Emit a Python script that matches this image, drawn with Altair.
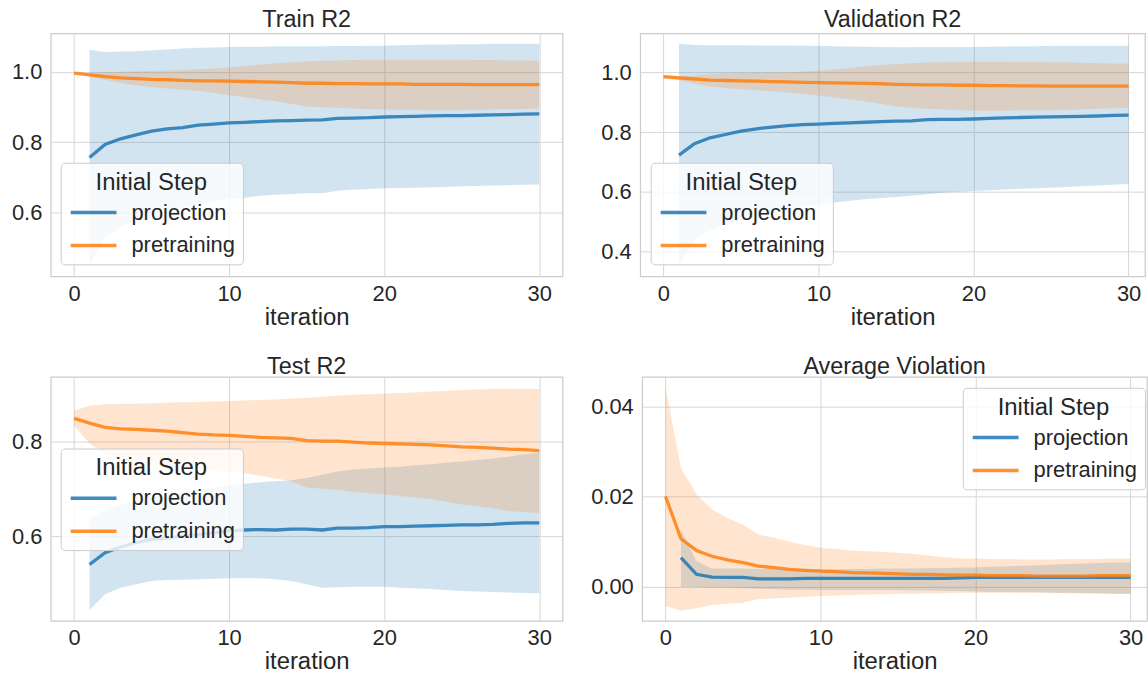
import altair as alt
import pandas as pd

STEPS = ["projection", "pretraining"]
COLORS = ["#1f77b4", "#ff7f0e"]
PROJ_ITERS = list(range(1, 31))
PRE_ITERS = list(range(0, 31))
X_TICKS = [0, 10, 20, 30]

# ---------------- Train R2 ----------------
train_proj_mean = [.757, .794, .810, .821, .832, .838, .842, .849, .852, .855, .857, .859, .861, .862, .863,
                   .864, .868, .869, .870, .872, .873, .874, .875, .876, .876, .877, .878, .879, .880, .881]
train_proj_hi = [1.063, 1.057, 1.058, 1.059, 1.061, 1.064, 1.067, 1.069, 1.070, 1.071, 1.072, 1.072, 1.073, 1.073, 1.073,
                 1.073, 1.074, 1.074, 1.075, 1.075, 1.076, 1.077, 1.078, 1.078, 1.079, 1.079, 1.080, 1.080, 1.080, 1.080]
train_proj_lo = [.450, .530, .560, .580, .595, .605, .615, .624, .632, .639, .642, .648, .651, .653, .655,
                 .655, .662, .665, .667, .669, .670, .671, .672, .673, .675, .676, .677, .678, .679, .680]
train_pre_mean = [.997, .992, .987, .983, .981, .979, .978, .976, .975, .975, .974, .973, .972, .971, .970, .968,
                  .968, .967, .967, .966, .966, .966, .965, .965, .965, .965, .964, .964, .964, .964, .964]
train_pre_hi = [.997, .997, .999, 1.001, 1.002, 1.003, 1.004, 1.006, 1.008, 1.010, 1.013, 1.017, 1.021, 1.025, 1.028, 1.030,
                1.032, 1.033, 1.034, 1.035, 1.035, 1.035, 1.035, 1.035, 1.035, 1.035, 1.034, 1.034, 1.033, 1.033, 1.032]
train_pre_lo = [.997, .988, .978, .969, .962, .957, .953, .950, .947, .941, .934, .928, .922, .917, .910, .902,
                .900, .898, .896, .894, .893, .892, .892, .891, .891, .891, .892, .893, .894, .895, .896]

# ---------------- Validation R2 ----------------
val_proj_mean = [.723, .761, .781, .792, .803, .811, .817, .822, .825, .827, .829, .831, .833, .835, .837,
                 .838, .842, .843, .843, .844, .846, .848, .849, .850, .851, .852, .853, .854, .856, .857]
val_proj_hi = [1.096, 1.092, 1.091, 1.091, 1.091, 1.090, 1.090, 1.090, 1.089, 1.089, 1.088, 1.087, 1.086, 1.085, 1.084,
               1.084, 1.085, 1.085, 1.085, 1.085, 1.086, 1.087, 1.088, 1.088, 1.089, 1.089, 1.089, 1.089, 1.089, 1.089]
val_proj_lo = [.353, .437, .470, .490, .505, .517, .528, .538, .548, .557, .564, .570, .575, .579, .583,
               .587, .592, .597, .600, .603, .605, .608, .610, .612, .614, .616, .619, .621, .624, .626]
val_pre_mean = [.986, .982, .978, .974, .973, .972, .971, .969, .968, .967, .966, .965, .964, .963, .962, .960,
                .959, .958, .958, .957, .957, .956, .956, .955, .955, .954, .954, .954, .954, .954, .954]
val_pre_hi = [.990, .988, .990, .994, .997, .999, 1.000, 1.000, 1.001, 1.003, 1.006, 1.010, 1.015, 1.020, 1.025, 1.028,
              1.031, 1.033, 1.034, 1.035, 1.036, 1.036, 1.036, 1.035, 1.035, 1.034, 1.033, 1.032, 1.031, 1.030, 1.029]
val_pre_lo = [.979, .974, .963, .953, .948, .944, .940, .937, .933, .928, .923, .917, .910, .903, .895, .886,
              .881, .878, .876, .874, .872, .872, .872, .873, .873, .873, .874, .876, .878, .880, .881]

# ---------------- Test R2 ----------------
test_proj_mean = [.540, .565, .577, .586, .593, .596, .600, .603, .607, .611, .613, .614, .613, .615, .615,
                  .613, .617, .617, .618, .620, .620, .621, .622, .623, .624, .624, .625, .627, .628, .628]
test_proj_hi = [.639, .656, .667, .675, .682, .688, .693, .698, .703, .707, .711, .714, .716, .718, .723,
                .730, .737, .741, .743, .745, .747, .750, .752, .755, .758, .761, .764, .768, .773, .777]
test_proj_lo = [.444, .477, .491, .498, .505, .507, .508, .509, .510, .511, .511, .511, .509, .505, .498,
                .491, .492, .493, .493, .493, .491, .490, .488, .486, .484, .483, .482, .481, .480, .479]
test_pre_mean = [.849, .839, .830, .827, .826, .824, .822, .819, .816, .814, .813, .811, .809, .808, .807, .802,
                 .801, .801, .799, .797, .796, .795, .794, .793, .791, .789, .788, .786, .784, .783, .781]
test_pre_hi = [.865, .876, .879, .880, .880, .881, .882, .883, .884, .885, .886, .887, .888, .889, .891, .893,
               .895, .897, .899, .900, .902, .903, .904, .906, .907, .909, .910, .911, .912, .911, .911]
test_pre_lo = [.834, .796, .775, .761, .755, .751, .748, .745, .742, .739, .737, .733, .728, .722, .716, .703,
               .700, .698, .694, .691, .688, .685, .682, .678, .673, .667, .663, .659, .653, .651, .649]

# ---------------- Average Violation ----------------
viol_proj_mean = [.0065, .0028, .0022, .0021, .0021, .0018, .0018, .0018, .0019, .0019, .0019, .0019, .0019, .0019, .0019,
                  .0019, .0019, .0019, .0020, .0021, .0021, .0021, .0021, .0021, .0021, .0021, .0021, .0021, .0021, .0021]
viol_proj_hi = [.0127, .0057, .0041, .0041, .0041, .0040, .0040, .0039, .0039, .0039, .0039, .0040, .0040, .0041, .0041,
                .0041, .0042, .0042, .0043, .0043, .0045, .0046, .0047, .0048, .0050, .0051, .0052, .0053, .0054, .0054]
viol_proj_lo = [.0000, .0000, -.0001, -.0002, -.0003, -.0004, -.0005, -.0006, -.0006, -.0007, -.0007, -.0007, -.0007, -.0007, -.0007,
                -.0008, -.0008, -.0009, -.0009, -.0010, -.0011, -.0011, -.0012, -.0012, -.0013, -.0013, -.0014, -.0014, -.0015, -.0015]
viol_pre_mean = [.0201, .0107, .0081, .0068, .0060, .0054, .0046, .0043, .0039, .0037, .0035, .0034, .0032, .0031, .0030, .0029,
                 .0028, .0028, .0027, .0026, .0026, .0025, .0025, .0025, .0024, .0024, .0024, .0024, .0025, .0025, .0025]
viol_pre_hi = [.0444, .0264, .0205, .0172, .0153, .0138, .0116, .0109, .0100, .0093, .0087, .0084, .0081, .0079, .0078, .0076,
               .0073, .0070, .0066, .0063, .0063, .0062, .0062, .0061, .0061, .0061, .0062, .0062, .0062, .0063, .0063]
viol_pre_lo = [-.0042, -.0053, -.0047, -.0040, -.0037, -.0035, -.0027, -.0025, -.0024, -.0022, -.0020, -.0019, -.0018, -.0017, -.0016, -.0015,
               -.0015, -.0014, -.0014, -.0013, -.0013, -.0013, -.0013, -.0013, -.0013, -.0013, -.0014, -.0014, -.0015, -.0015, -.0015]


def make_frame(pm, plo, phi, tm, tlo, thi):
    rows = []
    for k, it in enumerate(PROJ_ITERS):
        rows.append({"iteration": it, "step": "projection", "mean": pm[k], "lo": plo[k], "hi": phi[k]})
    for k, it in enumerate(PRE_ITERS):
        rows.append({"iteration": it, "step": "pretraining", "mean": tm[k], "lo": tlo[k], "hi": thi[k]})
    return pd.DataFrame(rows)


FONT = "Liberation Sans"
TXT = "#262626"


def panel(df, title, title_offset, ydom, yticks, yfmt, xdom, width, height, lx, ly):
    xscale = alt.Scale(domain=xdom, nice=False, zero=False)
    yscale = alt.Scale(domain=ydom, nice=False, zero=False)
    xaxis = alt.Axis(values=X_TICKS, title="iteration", format="d")
    yaxis = alt.Axis(values=yticks, format=yfmt, title=None, minExtent=50, maxExtent=50, labelPadding=9)
    cscale = alt.Scale(domain=STEPS, range=COLORS)
    band = alt.Chart(df).mark_area(opacity=0.2, clip=True).encode(
        x=alt.X("iteration:Q", scale=xscale, axis=xaxis),
        y=alt.Y("lo:Q", scale=yscale, axis=yaxis),
        y2="hi:Q",
        color=alt.Color("step:N", scale=cscale, legend=None),
    )
    line = alt.Chart(df).mark_line(strokeWidth=3.3, opacity=0.85, clip=True).encode(
        x=alt.X("iteration:Q", scale=xscale, axis=xaxis),
        y=alt.Y("mean:Q", scale=yscale, axis=yaxis),
        color=alt.Color(
            "step:N", scale=cscale,
            legend=alt.Legend(
                title="Initial Step", orient="none", legendX=lx, legendY=ly,
                symbolType="M-1,0L3,0", symbolSize=529, symbolStrokeWidth=3.5,
                labelOffset=36, rowPadding=8, titlePadding=4.5,
                padding=8, titleAnchor="middle",
            ),
        ),
    )
    return (
        alt.layer(band, line)
        .resolve_legend(color="independent")
        .properties(width=width, height=height,
                    title=alt.TitleParams(text=title, offset=title_offset))
    )


p1 = panel(make_frame(train_proj_mean, train_proj_lo, train_proj_hi, train_pre_mean, train_pre_lo, train_pre_hi),
           "Train R2", 2, [0.419, 1.110], [0.6, 0.8, 1.0], ".1f", [-1.5, 31.5], 514, 244, 10, 130)
p2 = panel(make_frame(val_proj_mean, val_proj_lo, val_proj_hi, val_pre_mean, val_pre_lo, val_pre_hi),
           "Validation R2", 2, [0.317, 1.131], [0.4, 0.6, 0.8, 1.0], ".1f", [-1.5, 31.06], 507, 244, 10.5, 130)
p3 = panel(make_frame(test_proj_mean, test_proj_lo, test_proj_hi, test_pre_mean, test_pre_lo, test_pre_hi),
           "Test R2", -2, [0.421, 0.937], [0.6, 0.8], ".1f", [-1.5, 31.5], 514, 245, 10, 72)
p4 = panel(make_frame(viol_proj_mean, viol_proj_lo, viol_proj_hi, viol_pre_mean, viol_pre_lo, viol_pre_hi),
           "Average Violation", -2, [-0.0075, 0.0466], [0.0, 0.02, 0.04], ".2f", [-1.5, 31.06], 507, 245, 322, 11)

row1 = alt.hconcat(p1, p2, spacing=26).resolve_scale(color="independent").resolve_legend(color="independent")
row2 = alt.hconcat(p3, p4, spacing=26).resolve_scale(color="independent").resolve_legend(color="independent")

chart = (
    alt.vconcat(row1, row2, spacing=24)
    .resolve_scale(color="independent")
    .resolve_legend(color="independent")
    .configure(font=FONT, padding={"left": 0, "top": 5, "right": 0, "bottom": 0})
    .configure_view(stroke="#cccccc", strokeWidth=1.25)
    .configure_axis(
        grid=True, gridColor="#d6d6d6", gridWidth=1, domain=False, ticks=False,
        labelFont=FONT, labelFontSize=22, labelColor=TXT, labelPadding=7,
        titleFont=FONT, titleFontSize=24, titleColor=TXT, titleFontWeight="normal", titlePadding=1,
    )
    .configure_title(font=FONT, fontSize=23.5, fontWeight="normal", color=TXT)
    .configure_legend(
        titleFont=FONT, titleFontSize=24, titleFontWeight="normal", titleColor=TXT,
        labelFont=FONT, labelFontSize=22, labelColor=TXT,
        fillColor="rgba(255,255,255,0.8)", strokeColor="#cccccc", cornerRadius=4,
    )
)

chart.save("out.html", embed_options={"renderer": "svg", "actions": False})
